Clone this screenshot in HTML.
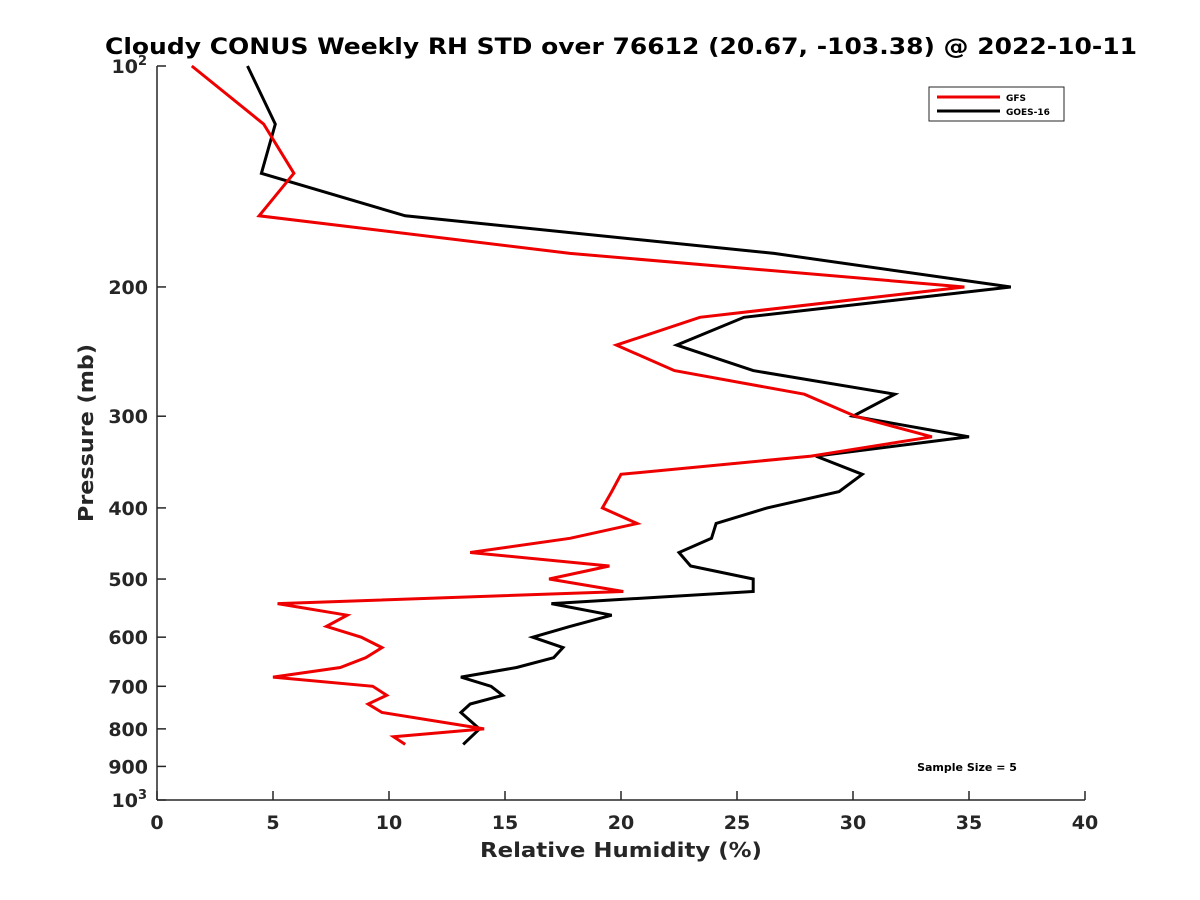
<!DOCTYPE html>
<html><head><meta charset="utf-8"><style>
body{margin:0;background:#fff}
svg{display:block;font-family:"DejaVu Sans","Liberation Sans",sans-serif}
</style></head><body>
<svg id="chart" width="1200" height="900" viewBox="0 0 1200 900">
<rect width="1200" height="900" fill="#fff"/>
<text x="621" y="54" text-anchor="middle" font-size="22" font-weight="bold" fill="#000" textLength="1032" lengthAdjust="spacingAndGlyphs">Cloudy CONUS Weekly RH STD over 76612 (20.67, -103.38) @ 2022-10-11</text>
<g id="axes"></g>
<g id="series"></g>
<text x="621" y="857" text-anchor="middle" font-size="20" font-weight="bold" fill="#262626" textLength="282" lengthAdjust="spacingAndGlyphs">Relative Humidity (%)</text>
<text transform="translate(93,433) rotate(-90)" text-anchor="middle" font-size="20" font-weight="bold" fill="#262626" textLength="178" lengthAdjust="spacingAndGlyphs">Pressure (mb)</text>
<g>
<rect x="929" y="87" width="135" height="34" fill="#fff" stroke="#262626" stroke-width="1"/>
<line x1="937" y1="97" x2="1000" y2="97" stroke="#e00" stroke-width="3"/>
<text x="1006" y="101" font-size="9" font-weight="bold">GFS</text>
<line x1="937" y1="111" x2="1000" y2="111" stroke="#000" stroke-width="3"/>
<text x="1006" y="115" font-size="9" font-weight="bold">GOES-16</text>
</g>
<text x="967" y="771" text-anchor="middle" font-size="11" font-weight="bold">Sample Size = 5</text>
</svg>
<script>
const xTicks=[0,5,10,15,20,25,30,35,40];
const yTicks=[200,300,400,500,600,700,800,900];
const gfsP=[100,120,140,160,180,200,220,240,260,280,300,320,340,360,380,400,420,440,460,480,500,520,540,560,580,600,620,640,660,680,700,720,740,760,800,820,840];
const gfsRH=[1.5,4.6,5.9,4.4,17.8,34.8,23.4,19.8,22.3,27.9,30.1,33.4,28.2,20.0,19.6,19.2,20.7,17.8,13.5,19.5,16.9,20.1,5.2,8.2,7.3,8.8,9.7,9.0,7.9,5.0,9.3,9.9,9.1,9.7,14.1,10.2,10.7];
const goesP=[100,120,140,160,180,200,220,240,260,280,300,320,340,360,380,400,420,440,460,480,500,520,540,560,580,600,620,640,660,680,700,720,740,760,800,840];
const goesRH=[3.9,5.1,4.5,10.7,26.6,36.8,25.3,22.4,25.7,31.8,30.0,35.0,28.4,30.4,29.4,26.3,24.1,23.9,22.5,23.0,25.7,25.7,17.0,19.6,17.8,16.2,17.5,17.1,15.5,13.1,14.4,14.9,13.5,13.1,13.9,13.2];
const X0=157,X1=1085,Y0=66,Y1=800;
const xs=v=>X0+(v-0)/(40-0)*(X1-X0);
const ys=p=>Y0+Math.log10(p/100)*(Y1-Y0);
const NS='http://www.w3.org/2000/svg';
const ax=document.getElementById('axes');
function mk(t,a,parent){const e=document.createElementNS(NS,t);for(const k in a)e.setAttribute(k,a[k]);parent.appendChild(e);return e;}
let l=mk('line',{x1:X0,y1:Y0,x2:X0,y2:Y1,stroke:'#262626','stroke-width':1.5},ax);


l=mk('line',{x1:X0,y1:Y1,x2:X1,y2:Y1,stroke:'#262626','stroke-width':1.5},ax);


xTicks.forEach(v=>{
  const t=mk('line',{x1:xs(v),y1:Y1,x2:xs(v),y2:Y1-9,stroke:'#262626','stroke-width':1.5},ax);
  
  
  const tx=mk('text',{x:xs(v),y:Y1+29,'text-anchor':'middle','font-size':19,'font-weight':'bold',fill:'#262626'},ax);
  tx.textContent=v;
  
  
});
[100,...yTicks,1000].forEach(p=>{
  const t=mk('line',{x1:X0,y1:ys(p),x2:X0+9,y2:ys(p),stroke:'#262626','stroke-width':1.5},ax);
  
  
});
yTicks.forEach(p=>{
  const tx=mk('text',{x:X0-9,y:ys(p)+7,'text-anchor':'end','font-size':19,'font-weight':'bold',fill:'#262626'},ax);
  tx.textContent=p;
  
  
});
[[100,'2'],[1000,'3']].forEach(([p,e])=>{
  const tx=mk('text',{x:X0-10,y:ys(p)+7,'text-anchor':'end','font-size':19,'font-weight':'bold',fill:'#262626'},ax);
  tx.innerHTML='10<tspan dy="-8" font-size="13">'+e+'</tspan>';
  
  
});
const sg=document.getElementById('series');
function line(P,R,color,name){
  const pts=P.map((p,i)=>xs(R[i]).toFixed(1)+','+ys(p).toFixed(1)).join(' ');
  const pl=mk('polyline',{points:pts,fill:'none',stroke:color,'stroke-width':3,'stroke-linejoin':'miter'},sg);
  
  
}
line(goesP,goesRH,'#000','goes16-line');
line(gfsP,gfsRH,'#e00','gfs-line');
</script>
</body></html>
